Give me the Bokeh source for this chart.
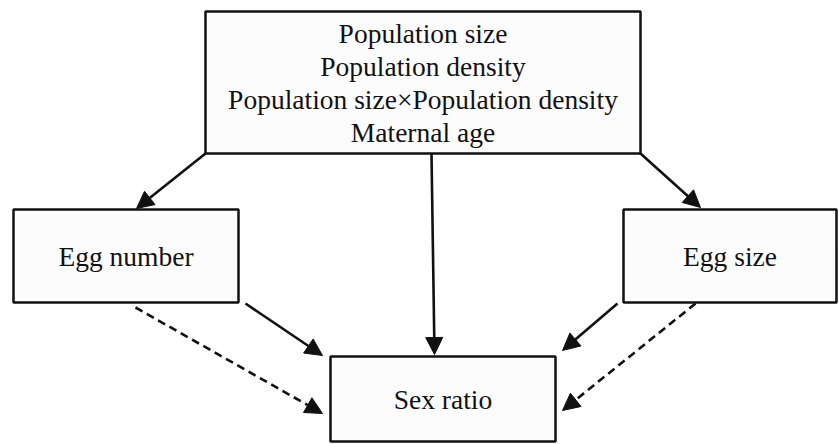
from bokeh.plotting import figure
from bokeh.models import Range1d, Arrow, NormalHead
from bokeh.core.properties import value
from bokeh.embed import file_html
from bokeh.resources import INLINE

# Node boxes (left, right, top, bottom) in reference pixel units
box_names = ["Predictors", "Egg number", "Egg size", "Sex ratio"]
box_left = [205, 13, 623, 330]
box_right = [640, 238, 836, 555]
box_top = [11, 209, 209, 356]
box_bottom = [153, 302, 302, 441]

top_lines = ["Population size", "Population density",
             "Population size\u00d7Population density", "Maternal age"]
top_offsets = [-49.5, -16.5, 16.5, 49.5]
node_labels = ["Egg number", "Egg size", "Sex ratio"]

# Edges: start/end points and style
edge_x0 = [205, 431, 640, 245, 617, 135, 695]
edge_y0 = [153, 153, 153, 303, 303, 307, 303]
edge_x1 = [136, 434, 700, 322, 562, 322, 562]
edge_y1 = [208, 354, 207, 355, 350, 413, 410]
edge_dashed = [False, False, False, False, False, True, True]

p = figure(width=839, height=444, output_backend="svg", toolbar_location=None,
           x_range=Range1d(0, 839), y_range=Range1d(444, 0),
           min_border=0)
p.axis.visible = False
p.grid.visible = False
p.outline_line_color = None
p.background_fill_color = "white"
p.border_fill_color = "white"

p.quad(left=box_left, right=box_right, top=box_top, bottom=box_bottom,
       fill_color="#fcfcfc", line_color="#111111", line_width=2.5)

cx = (box_left[0] + box_right[0]) / 2
cy = (box_top[0] + box_bottom[0]) / 2
p.text(x=[cx] * len(top_lines), y=[cy + o for o in top_offsets], text=top_lines,
       text_align="center", text_baseline="middle",
       text_font=value("Liberation Serif"), text_font_size="27.5px", text_color="#111111")

lx = [(box_left[i] + box_right[i]) / 2 for i in range(1, 4)]
ly = [(box_top[i] + box_bottom[i]) / 2 for i in range(1, 4)]
p.text(x=lx, y=ly, text=node_labels,
       text_align="center", text_baseline="middle",
       text_font=value("Liberation Serif"), text_font_size="27.5px", text_color="#111111")

for x0, y0, x1, y1, d in zip(edge_x0, edge_y0, edge_x1, edge_y1, edge_dashed):
    head = NormalHead(size=17, fill_color="#111111", line_color="#111111", line_width=1)
    p.add_layout(Arrow(end=head, x_start=x0, y_start=y0, x_end=x1, y_end=y1,
                       line_color="#111111", line_width=2.6,
                       line_dash="8 5" if d else "solid"))

open("out.html", "w").write(file_html(p, INLINE))
